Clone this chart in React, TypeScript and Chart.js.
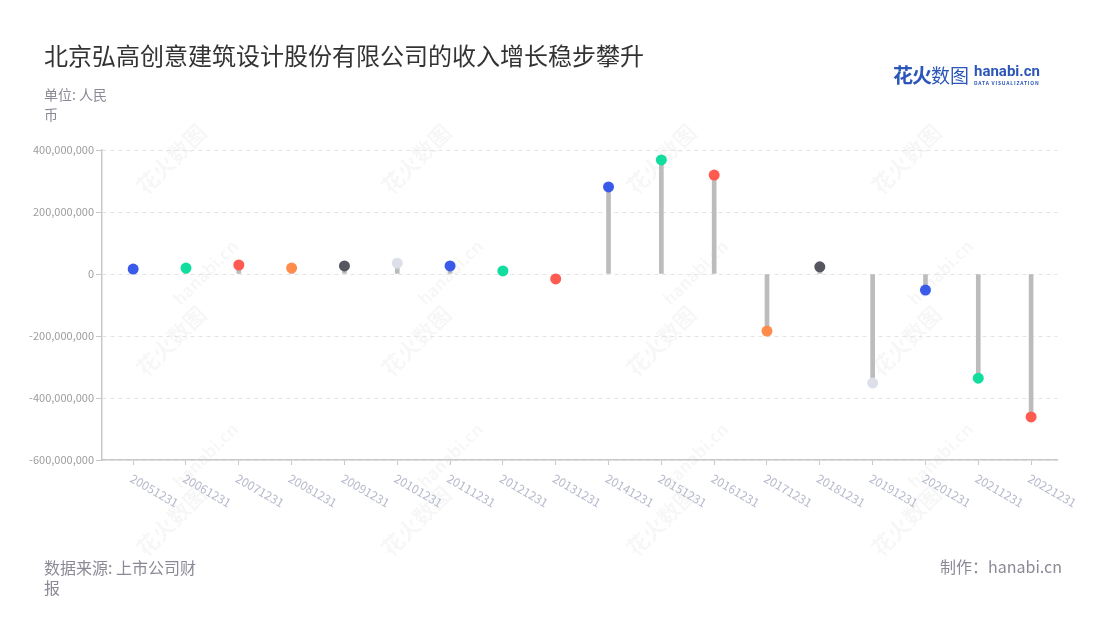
import React, { useEffect, useRef } from "react";
import { Chart, registerables } from "chart.js";

Chart.register(...registerables);

const categories = [
  "20051231", "20061231", "20071231", "20081231", "20091231", "20101231",
  "20111231", "20121231", "20131231", "20141231", "20151231", "20161231",
  "20171231", "20181231", "20191231", "20201231", "20211231", "20221231",
];

const revenueGrowth = [
  16000000, 19000000, 29000000, 19000000, 26000000, 35000000,
  26000000, 10000000, -16000000, 281000000, 368000000, 319000000,
  -184000000, 23000000, -352000000, -52000000, -336000000, -461000000,
];

const BLUE = "#3a5aea";
const GREEN = "#10dd9e";
const RED = "#ff5b50";
const ORANGE = "#ff8b4d";
const DARK = "#55565f";
const LIGHT = "#dde0ea";

const pointColors = [
  BLUE, GREEN, RED, ORANGE, DARK, LIGHT,
  BLUE, GREEN, RED, BLUE, GREEN, RED,
  ORANGE, DARK, LIGHT, BLUE, GREEN, RED,
];

const yMin = -600000000;
const yMax = 400000000;
const yStep = 200000000;

const FONT = "'Noto Sans CJK SC', 'Noto Sans', sans-serif";

const points = revenueGrowth.map((v, i) => ({ x: i, y: v }));

const rotatedLabels = {
  id: "rotatedLabels",
  afterDraw(chart: any) {
    const xs = chart.scales.x;
    const ctx = chart.ctx;
    ctx.save();
    ctx.font = `12px ${FONT}`;
    ctx.fillStyle = "#b6bacb";
    ctx.textAlign = "left";
    ctx.textBaseline = "top";
    categories.forEach((c, i) => {
      const x = xs.getPixelForValue(i);
      ctx.save();
      ctx.translate(x + 1, xs.top + 12);
      ctx.rotate((30 * Math.PI) / 180);
      ctx.fillText(c, 0, 0);
      ctx.restore();
    });
    ctx.restore();
  },
};

const watermarkCn = [
  [170, 158], [415, 158], [660, 158], [905, 158],
  [170, 340], [415, 340], [660, 340], [905, 340],
  [170, 520], [415, 520], [660, 520], [905, 520],
];
const watermarkEn = [
  [205, 272], [450, 272], [695, 272], [940, 272],
  [205, 455], [450, 455], [695, 455], [940, 455],
];

export default function App() {
  const ref = useRef<HTMLCanvasElement | null>(null);

  useEffect(() => {
    document.body.style.margin = "0";
    const chart = new Chart(ref.current as HTMLCanvasElement, {
      type: "bar",
      data: {
        datasets: [
          {
            type: "line",
            data: points,
            showLine: false,
            pointRadius: 5.5,
            pointHoverRadius: 5.5,
            pointBorderWidth: 0,
            pointBackgroundColor: pointColors,
            pointBorderColor: pointColors,
            order: 0,
          } as any,
          {
            type: "bar",
            data: points,
            backgroundColor: "#bcbcbc",
            barThickness: 4,
            order: 1,
          },
        ],
      },
      options: {
        animation: false,
        responsive: false,
        layout: { padding: { top: 150, right: 42.5, left: 0, bottom: 0 } },
        plugins: { legend: { display: false }, tooltip: { enabled: false } },
        scales: {
          x: {
            type: "linear",
            min: -0.59,
            max: 17.5,
            offset: false,
            grid: {
              offset: false,
              drawOnChartArea: false,
              drawTicks: true,
              tickLength: 5,
              tickColor: "#c8c8c8",
            },
            border: { color: "#c8c8c8", width: 1.5 },
            ticks: { display: false },
            afterBuildTicks: (s: any) => {
              s.ticks = categories.map((_, i) => ({ value: i }));
            },
            afterFit: (s: any) => {
              s.height = 160;
            },
          },
          y: {
            min: yMin,
            max: yMax,
            ticks: {
              stepSize: yStep,
              color: "#9c9c9c",
              font: { family: FONT, size: 11 },
              padding: 2,
              callback: (v: any) => Number(v).toLocaleString("en-US"),
            },
            grid: {
              color: "#e4e4e4",
              tickColor: "#c8c8c8",
              tickLength: 6,
              lineWidth: 1,
            },
            border: { color: "#c8c8c8", width: 1.5, dash: [4, 4] },
            afterFit: (s: any) => {
              s.width = 102;
            },
          },
        },
      },
      plugins: [rotatedLabels],
    });
    return () => chart.destroy();
  }, []);

  return (
    <div
      style={{
        position: "fixed",
        left: 0,
        top: 0,
        width: 1100,
        height: 620,
        background: "#fff",
        fontFamily: FONT,
        overflow: "hidden",
      }}
    >
      {watermarkCn.map(([x, y], i) => (
        <div
          key={"c" + i}
          style={{
            position: "absolute",
            left: x - 50,
            top: y - 14,
            width: 100,
            textAlign: "center",
            fontSize: 22,
            fontWeight: 700,
            lineHeight: "28px",
            color: "rgba(0,0,0,0.05)",
            transform: "rotate(-45deg)",
            pointerEvents: "none",
          }}
        >
          花火数图
        </div>
      ))}
      {watermarkEn.map(([x, y], i) => (
        <div
          key={"e" + i}
          style={{
            position: "absolute",
            left: x - 50,
            top: y - 12,
            width: 100,
            textAlign: "center",
            fontSize: 17,
            fontWeight: 700,
            lineHeight: "24px",
            color: "rgba(0,0,0,0.05)",
            transform: "rotate(-45deg)",
            pointerEvents: "none",
          }}
        >
          hanabi.cn
        </div>
      ))}
      <canvas
        ref={ref}
        width={1100}
        height={620}
        style={{ position: "absolute", left: 0, top: 0, width: 1100, height: 620 }}
      />
      <div
        style={{
          position: "absolute",
          left: 44,
          top: 39,
          fontSize: 24,
          color: "#333",
          lineHeight: "32px",
          whiteSpace: "nowrap",
        }}
      >
        北京弘高创意建筑设计股份有限公司的收入增长稳步攀升
      </div>
      <div
        style={{
          position: "absolute",
          left: 44,
          top: 84,
          width: 66,
          fontSize: 14,
          lineHeight: "20px",
          color: "#8a8a96",
        }}
      >
        单位: 人民币
      </div>
      <div
        style={{
          position: "absolute",
          left: 893,
          top: 60,
          display: "flex",
          alignItems: "center",
          color: "#2c56b8",
        }}
      >
        <span style={{ fontSize: 20, fontWeight: 700, letterSpacing: -1 }}>花火</span>
        <span style={{ fontSize: 19, fontWeight: 400 }}>数图</span>
        <span style={{ display: "inline-flex", flexDirection: "column", marginLeft: 5 }}>
          <span style={{ fontSize: 15, fontWeight: 700, lineHeight: "15px", fontFamily: "Roboto, sans-serif" }}>
            hanabi.cn
          </span>
          <span style={{ fontSize: 5, fontWeight: 700, lineHeight: "7px", letterSpacing: 0.8 }}>
            DATA VISUALIZATION
          </span>
        </span>
      </div>
      <div
        style={{
          position: "absolute",
          left: 44,
          top: 557,
          width: 156,
          fontSize: 16,
          lineHeight: "20px",
          color: "#8a8a96",
        }}
      >
        数据来源: 上市公司财报
      </div>
      <div
        style={{
          position: "absolute",
          right: 38,
          top: 556,
          fontSize: 16,
          lineHeight: "21px",
          color: "#8a8a96",
        }}
      >
        制作：hanabi.cn
      </div>
    </div>
  );
}
